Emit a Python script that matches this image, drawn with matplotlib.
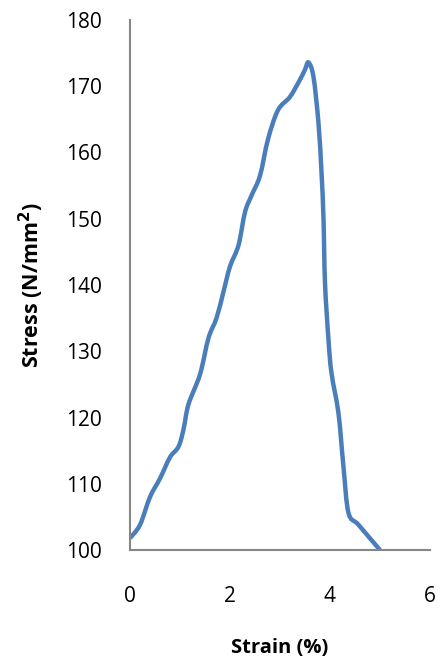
import matplotlib
matplotlib.use("Agg")
import matplotlib.pyplot as plt
import numpy as np
from matplotlib.path import Path
from matplotlib.patches import PathPatch

# Stress-strain curve of the specimen
strain = [0.0, 0.2, 0.4, 0.6, 0.8, 0.97, 1.07, 1.17, 1.4, 1.57, 1.73, 1.87, 2.0, 2.17,
          2.3, 2.43, 2.6, 2.76, 2.96, 3.2, 3.4, 3.5, 3.57, 3.67, 3.77, 3.83, 3.87,
          3.9, 3.97, 4.03, 4.17, 4.27, 4.37, 4.57, 5.0]
stress = [101.8, 103.8, 108.0, 110.8, 114.0, 115.6, 118.2, 122.0, 126.5, 132.0, 135.0, 139.0,
          142.8, 146.0, 151.0, 153.5, 156.5, 162.0, 166.4, 168.4, 171.0, 172.5, 173.6, 171.4,
          164.4, 157.0, 150.0, 140.3, 131.7, 126.7, 120.6, 112.5, 105.6, 103.8, 100.0]

x_ticks = [0, 2, 4, 6]
y_ticks = [100, 110, 120, 130, 140, 150, 160, 170, 180]


def smooth_path(xs, ys):
    """Smoothed line through the points using Catmull-Rom Bezier segments."""
    pts = np.column_stack([xs, ys]).astype(float)
    verts = [pts[0]]
    codes = [Path.MOVETO]
    n = len(pts)
    for i in range(n - 1):
        p0 = pts[i - 1] if i > 0 else pts[i]
        p1 = pts[i]
        p2 = pts[i + 1]
        p3 = pts[i + 2] if i + 2 < n else pts[i + 1]
        c1 = p1 + (p2 - p0) / 6.0
        c2 = p2 - (p3 - p1) / 6.0
        verts += [c1, c2, p2]
        codes += [Path.CURVE4] * 3
    return Path(verts, codes)


plt.rcParams['font.family'] = ['Open Sans', 'DejaVu Sans']

fig = plt.figure(figsize=(4.43, 6.67), dpi=100)
ax = fig.add_axes([130 / 443, 1 - 550 / 667, 300 / 443, 530 / 667])

ax.add_patch(PathPatch(smooth_path(strain, stress), facecolor='none',
                       edgecolor='#4A7EBB', linewidth=3.2, capstyle='butt',
                       joinstyle='round'))

ax.set_xlim(0, 6)
ax.set_ylim(100, 180)
ax.set_xticks(x_ticks)
ax.set_yticks(y_ticks)
ax.tick_params(axis='both', length=0, labelsize=15, colors='black')
ax.tick_params(axis='y', pad=20)
ax.tick_params(axis='x', pad=26)

for side in ('top', 'right'):
    ax.spines[side].set_visible(False)
for side in ('left', 'bottom'):
    ax.spines[side].set_color('#868686')
    ax.spines[side].set_linewidth(1.5)

ax.set_xlabel('Strain (%)', fontsize=14.5, fontweight='bold', labelpad=22)
ax.set_ylabel('Stress (N/mm$^\\mathbf{2}$)', fontsize=15.5, fontweight='bold', labelpad=15)

fig.savefig('out.png', dpi=100)
